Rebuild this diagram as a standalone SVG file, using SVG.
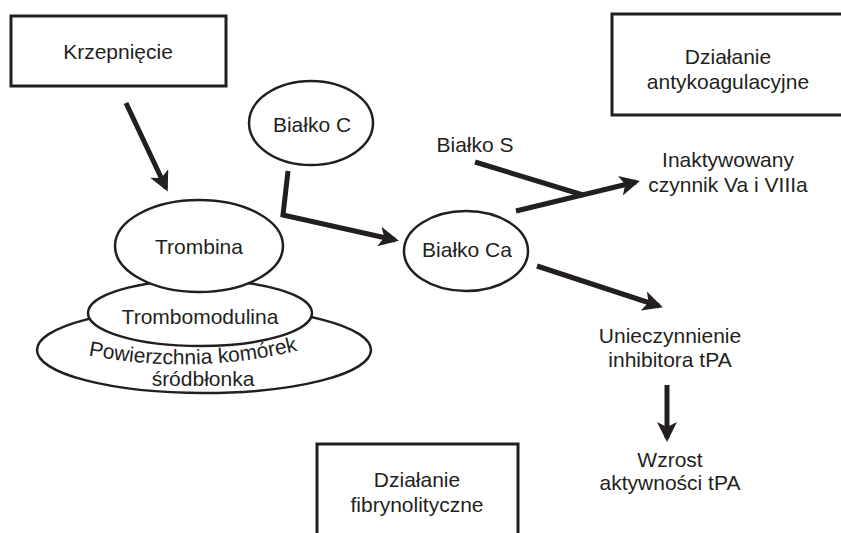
<svg xmlns="http://www.w3.org/2000/svg" width="841" height="533" viewBox="0 0 841 533">
<style>
.t{font-family:"Liberation Sans",Arial,sans-serif;font-size:21px;fill:#231f20;text-anchor:middle}
.b{fill:#fff;stroke:#231f20;stroke-width:3}
.e{fill:#fff;stroke:#231f20;stroke-width:2.5}
.c{fill:none;stroke:#231f20;stroke-width:5;stroke-linejoin:miter}
</style>
<defs>
<marker id="ah" markerWidth="4" markerHeight="4" refX="3.2" refY="2" orient="auto" markerUnits="strokeWidth" viewBox="0 0 4 4">
<path d="M0,0 L4,2 L0,4 L1,2 z" fill="#231f20"/>
</marker>
</defs>
<rect width="841" height="533" fill="#fff"/>
<g id="krzepniecie"><rect class="b" x="11" y="16" width="215" height="70"/><text class="t" x="118" y="59">Krzepnięcie</text></g>
<g id="antykoagulacyjne"><rect class="b" x="612" y="14" width="240" height="101"/><text class="t" x="728" y="64">Działanie</text><text class="t" x="728" y="89">antykoagulacyjne</text></g>
<g id="fibrynolityczne"><rect class="b" x="317" y="444" width="201" height="100"/><text class="t" x="417" y="487">Działanie</text><text class="t" x="417" y="512">fibrynolityczne</text></g>
<g id="powierzchnia"><ellipse class="e" cx="204" cy="350" rx="167" ry="43"/>
<path id="arc" d="M 86,355 Q 195,376 300,350" fill="none"/>
<text class="t"><textPath href="#arc" startOffset="50%">Powierzchnia komórek</textPath></text>
<text class="t" x="203" y="386">śródbłonka</text></g>
<g id="trombomodulina"><ellipse class="e" cx="200" cy="313" rx="112" ry="33"/><text class="t" x="200" y="324">Trombomodulina</text></g>
<g id="trombina"><ellipse class="e" cx="199" cy="246" rx="84" ry="46"/><text class="t" x="199" y="254">Trombina</text></g>
<g id="bialkoC"><ellipse class="e" cx="311" cy="123" rx="62" ry="42"/><text class="t" x="312" y="132">Białko C</text></g>
<g id="bialkoCa"><ellipse class="e" cx="466" cy="251" rx="62" ry="40"/><text class="t" x="467" y="257">Białko Ca</text></g>
<g id="bialkoS"><text class="t" x="475" y="152">Białko S</text></g>
<g id="inaktywowany"><text class="t" x="728" y="167">Inaktywowany</text><text class="t" x="728" y="192">czynnik Va i VIIIa</text></g>
<g id="unieczynnienie"><text class="t" x="670" y="343">Unieczynnienie</text><text class="t" x="670" y="367">inhibitora tPA</text></g>
<g id="wzrost"><text class="t" x="670" y="467">Wzrost</text><text class="t" x="670" y="490">aktywności tPA</text></g>
<g id="connectors">
<path class="c" d="M126,103 L166,188" marker-end="url(#ah)"/>
<path class="c" d="M288,171 L283,215 L395,240" marker-end="url(#ah)"/>
<path class="c" d="M475,162 L583,195"/>
<path class="c" d="M516,211 L636,182" marker-end="url(#ah)"/>
<path class="c" d="M537,266 L659,306" marker-end="url(#ah)"/>
<path class="c" d="M667,385 L667,438" marker-end="url(#ah)"/>
</g>
</svg>
